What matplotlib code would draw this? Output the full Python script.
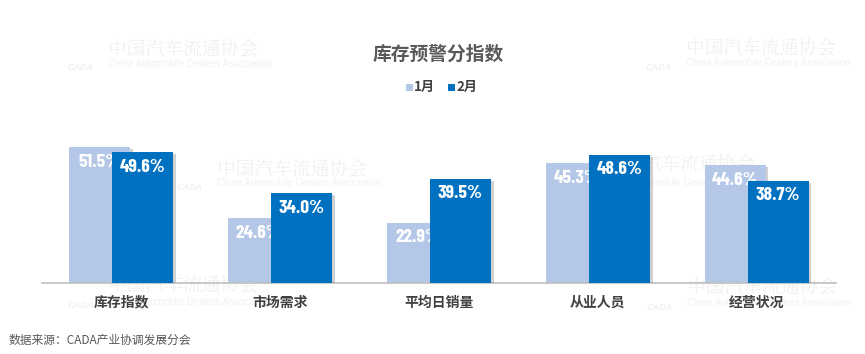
import matplotlib
matplotlib.use("Agg")
import matplotlib.pyplot as plt
import matplotlib.patheffects as pe
from matplotlib.patches import Rectangle
import numpy as np

plt.rcParams['font.family'] = ['Noto Sans CJK SC', 'DejaVu Sans']

categories = ["库存指数", "市场需求", "平均日销量", "从业人员", "经营状况"]
jan = [51.5, 24.6, 22.9, 45.3, 44.6]
feb = [49.6, 34.0, 39.5, 48.6, 38.7]
series_names = ["1月", "2月"]
title = "库存预警分指数"
source = "数据来源：CADA产业协调发展分会"

c_light = "#B4C7E7"
c_dark = "#0070C0"

W, H = 865, 354
fig = plt.figure(figsize=(W / 100, H / 100), dpi=100)
fig.patch.set_facecolor("white")

def fx(px):
    return px / W

def fy(py):
    return 1 - py / H

# watermarks
wm_cn = "中国汽车流通协会"
wm_en = "China Automobile Dealers Association"
for (x, ycn, yen) in [(108, 50, 64), (686, 49, 63), (217, 170, 183), (605, 165, 183),
                      (108, 286, 302), (687, 288, 303)]:
    fig.text(fx(x), fy(ycn), wm_cn, fontsize=13.5, color="#f0f0f0", va="center", ha="left",
             family=["Noto Serif CJK SC", "Noto Sans CJK SC"], zorder=-5)
    fig.text(fx(x), fy(yen), wm_en, fontsize=7, color="#f1f1f1", va="center", ha="left",
             family=["Liberation Sans", "DejaVu Sans"], zorder=-5)
    fig.text(fx(x - 40), fy(yen + 4), "CADA", fontsize=6.5, color="#f1f1f1", va="center",
             ha="left", style="italic", weight="bold", family=["Liberation Sans"], zorder=-5)

ax = fig.add_axes([fx(42), fy(283), fx(836) - fx(42), (283 - 124.6) / H])
ax.patch.set_visible(False)
x = np.arange(len(categories))
w = 0.384
off = 0.135
shadow = [pe.SimplePatchShadow(offset=(2, -1.5), shadow_rgbFace="#9a9a9a", alpha=0.45), pe.Normal()]

b1 = ax.bar(x - off, jan, width=w, color=c_light, zorder=2)
b2 = ax.bar(x + off, feb, width=w, color=c_dark, zorder=4)
for b in list(b1) + list(b2):
    b.set_path_effects(shadow)

lab_font = dict(family=["Barlow Condensed", "Archivo Narrow", "DejaVu Sans"], weight=700,
                fontsize=14, color="white")
for xi, v in zip(x, jan):
    ax.annotate(f"{v:.1f}%", (xi - off, v), xytext=(0, -15), textcoords="offset pixels",
                ha="center", va="center", zorder=3, **lab_font)
for xi, v in zip(x, feb):
    ax.annotate(f"{v:.1f}%", (xi + off, v), xytext=(0, -15), textcoords="offset pixels",
                ha="center", va="center", zorder=5, **lab_font)

ax.set_xlim(-0.5, len(categories) - 0.5)
ax.set_ylim(0, 60)
ax.set_yticks([])
ax.set_xticks(x)
ax.set_xticklabels(categories, fontsize=10, weight="bold", color="#404040")
ax.tick_params(axis="x", length=0, pad=9)
for s in ["top", "right", "left"]:
    ax.spines[s].set_visible(False)
ax.spines["bottom"].set_color("#BFBFBF")
ax.spines["bottom"].set_linewidth(1.2)

fig.text(fx(438), fy(54), title, fontsize=13.5, weight="bold", color="#595959", ha="center", va="center")

# legend
for (sx, tx, col, name) in [(406, 414, c_light, series_names[0]), (448, 456, c_dark, series_names[1])]:
    fig.patches.append(Rectangle((fx(sx), fy(90.5)), fx(7), 7 / H, transform=fig.transFigure,
                                 facecolor=col, edgecolor="none"))
    fig.text(fx(tx), fy(87), name, fontsize=9.5, weight="bold", color="#404040", ha="left", va="center")

fig.text(fx(9), fy(340), source, fontsize=8.5, color="#595959", ha="left", va="center")

fig.savefig("out.png", dpi=100, facecolor="white")
